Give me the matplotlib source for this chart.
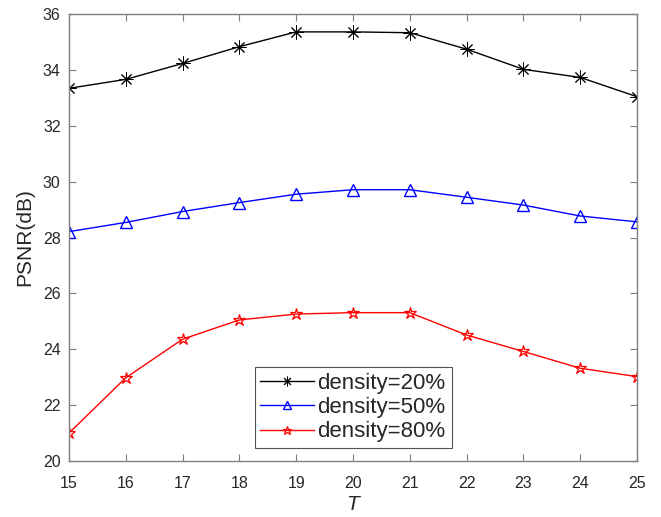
import matplotlib
matplotlib.use("Agg")
import matplotlib.pyplot as plt

plt.rcParams['font.family'] = ['Liberation Sans', 'DejaVu Sans']

T = [15, 16, 17, 18, 19, 20, 21, 22, 23, 24, 25]
d20 = [33.34, 33.66, 34.23, 34.83, 35.36, 35.36, 35.33, 34.74, 34.02, 33.73, 33.04]
d50 = [28.21, 28.54, 28.93, 29.25, 29.55, 29.71, 29.71, 29.44, 29.16, 28.77, 28.56]
d80 = [21.00, 22.98, 24.36, 25.05, 25.26, 25.31, 25.31, 24.51, 23.92, 23.32, 23.02]
labels = ['density=20%', 'density=50%', 'density=80%']
yticks = [20, 22, 24, 26, 28, 30, 32, 34, 36]

fig = plt.figure(figsize=(6.61, 5.17), dpi=100)
ax = fig.add_axes([69/661, 1-461/517, 568/661, 447/517])

ax.plot(T, d20, color='k', lw=1, marker=(8, 2, 0), ms=10, mew=0.7, label=labels[0])
ax.plot(T, d50, color='#0000ff', lw=1, marker='^', ms=9, mfc='none', mew=1.0, label=labels[1])
ax.plot(T, d80, color='#ff0000', lw=1, marker='*', ms=9, mfc='none', mew=0.9, label=labels[2])

ax.set_xlim(15, 25)
ax.set_ylim(20, 36)
ax.set_xticks(T)
ax.set_yticks(yticks)
ax.tick_params(direction='in', top=True, right=True, length=5, width=0.8,
               colors='#7f7f7f', labelcolor='#262626', labelsize=11.5)
ax.tick_params(axis='x', pad=11)
ax.tick_params(axis='y', pad=6)
for s in ax.spines.values():
    s.set_color('#7f7f7f')
    s.set_linewidth(1.0)

ax.set_ylabel('PSNR(dB)', fontsize=15, color='#262626', labelpad=6)
ax.set_xlabel('T', fontsize=15, style='italic', color='#262626', labelpad=3)

leg = ax.legend(loc='lower left', bbox_to_anchor=(0.327, 0.029, 0.347, 0.204), mode='expand',
                fontsize=16, frameon=True, fancybox=False, handlelength=2.4,
                handletextpad=0.15, borderpad=0.25, labelspacing=0.15, borderaxespad=0,
                markerscale=0.7)
leg.get_frame().set_edgecolor('#262626')
leg.get_frame().set_linewidth(0.8)
for t in leg.get_texts():
    t.set_color('#262626')

fig.savefig('out.png', dpi=100)
